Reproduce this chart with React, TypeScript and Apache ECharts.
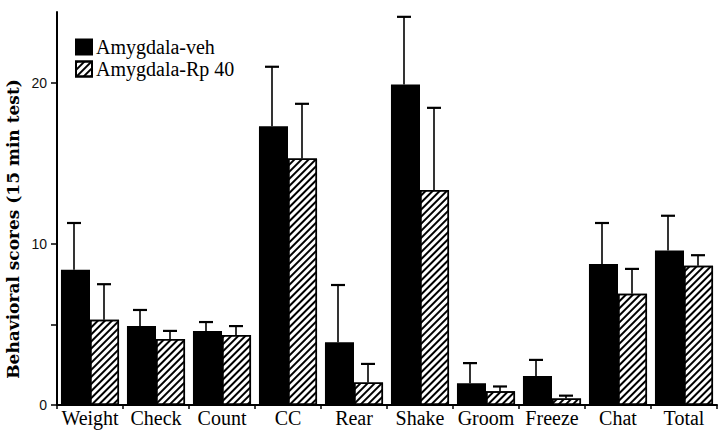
import React, { useEffect, useRef } from "react";
import * as echarts from "echarts";

const categories = ["Weight", "Check", "Count", "CC", "Rear", "Shake", "Groom", "Freeze", "Chat", "Total"];
const vehMeans = [8.4, 4.9, 4.6, 17.3, 3.9, 19.9, 1.35, 1.8, 8.75, 9.6];
const vehSem = [2.9, 1.0, 0.55, 3.7, 3.55, 4.2, 1.25, 1.0, 2.55, 2.15];
const rpMeans = [5.3, 4.1, 4.35, 15.3, 1.4, 13.35, 0.85, 0.4, 6.9, 8.65];
const rpSem = [2.2, 0.5, 0.55, 3.4, 1.15, 5.1, 0.3, 0.18, 1.55, 0.65];
const seriesNames = ["Amygdala-veh", "Amygdala-Rp 40"];
const yTicks = [0, 5, 10, 20];
const yLabels = [0, 10, 20];
const yTitle = "Behavioral scores (15 min test)";

const SERIF = "'Liberation Serif', 'Times New Roman', Times, serif";
const SANS = "'Liberation Sans', Arial, Helvetica, sans-serif";
const TITLE_FONT = "'DejaVu Serif', serif";
const CAT_GAP = 0.12;

function errorSeries(means: number[], sem: number[], side: number) {
  return {
    type: "custom",
    silent: true,
    z: 5,
    data: means.map((m, i) => [i, m, m + sem[i]]),
    encode: { x: 0, y: 2 },
    renderItem: (params: any, api: any) => {
      const ci = api.value(0);
      const p0 = api.coord([ci, api.value(1)]);
      const p1 = api.coord([ci, api.value(2)]);
      const band = api.size([1, 0])[0];
      const bw = (band * (1 - CAT_GAP)) / 2;
      const x = Math.round(p0[0] + (side * bw) / 2) - 1;
      return {
        type: "group",
        children: [
          { type: "line", shape: { x1: x, y1: p0[1], x2: x, y2: p1[1] }, style: { stroke: "#000", lineWidth: 1.6 } },
          { type: "line", shape: { x1: x - 7, y1: p1[1], x2: x + 7, y2: p1[1] }, style: { stroke: "#000", lineWidth: 2.2 } },
        ],
      };
    },
  };
}

export default function App() {
  const ref = useRef<HTMLDivElement>(null);
  useEffect(() => {
    if (!ref.current) return;
    const chart = echarts.init(ref.current, undefined, { renderer: "svg" });
    chart.setOption({
      animation: false,
      backgroundColor: "#fff",
      grid: { left: 57, right: 3, top: 12, bottom: 27, containLabel: false, outerBoundsMode: "none" },
      legend: {
        data: seriesNames,
        orient: "vertical",
        left: 75,
        top: 37,
        padding: 0,
        itemWidth: 16,
        itemHeight: 15,
        itemGap: 2,
        icon: "rect",
        textStyle: { fontFamily: SERIF, fontSize: 20, color: "#000", padding: [0, 0, 0, -1] },
      },
      graphic: [
        {
          type: "text",
          x: 13,
          y: 229,
          rotation: Math.PI / 2,
          style: {
            text: yTitle,
            fontFamily: TITLE_FONT,
            fontSize: 17,
            fontWeight: "bold",
            fill: "#000",
            align: "center",
            verticalAlign: "middle",
          },
        },
      ],
      xAxis: {
        type: "category",
        data: categories,
        axisLine: { lineStyle: { color: "#000", width: 2 } },
        axisTick: { show: true, length: 4, lineStyle: { color: "#000", width: 1.5 } },
        axisLabel: { fontFamily: SERIF, fontSize: 20, color: "#000", margin: 3, interval: 0 },
      },
      yAxis: {
        type: "value",
        min: 0,
        max: 24.4,
        splitLine: { show: false },
        axisLine: { show: true, lineStyle: { color: "#000", width: 2 } },
        axisTick: { show: true, length: 6, customValues: yTicks, lineStyle: { color: "#000", width: 1.5 } },
        axisLabel: { customValues: yLabels, fontFamily: SANS, fontSize: 14, color: "#111", margin: 10 },
      },
      series: [
        {
          name: seriesNames[0],
          type: "bar",
          data: vehMeans,
          barGap: "0%",
          barCategoryGap: CAT_GAP * 100 + "%",
          itemStyle: { color: "#000", borderColor: "#000", borderWidth: 1.5 },
        },
        {
          name: seriesNames[1],
          type: "bar",
          data: rpMeans,
          barGap: "0%",
          barCategoryGap: CAT_GAP * 100 + "%",
          itemStyle: {
            color: "#fff",
            borderColor: "#000",
            borderWidth: 1.5,
            decal: {
              symbol: "rect",
              color: "#000",
              backgroundColor: "#fff",
              dashArrayX: [1, 0],
              dashArrayY: [2, 3],
              rotation: -Math.PI / 4,
              symbolSize: 1,
            },
          },
        },
        errorSeries(vehMeans, vehSem, -1),
        errorSeries(rpMeans, rpSem, 1),
      ],
    });
    return () => chart.dispose();
  }, []);
  return <div ref={ref} style={{ position: "absolute", left: 0, top: 0, width: 720, height: 432 }} />;
}
